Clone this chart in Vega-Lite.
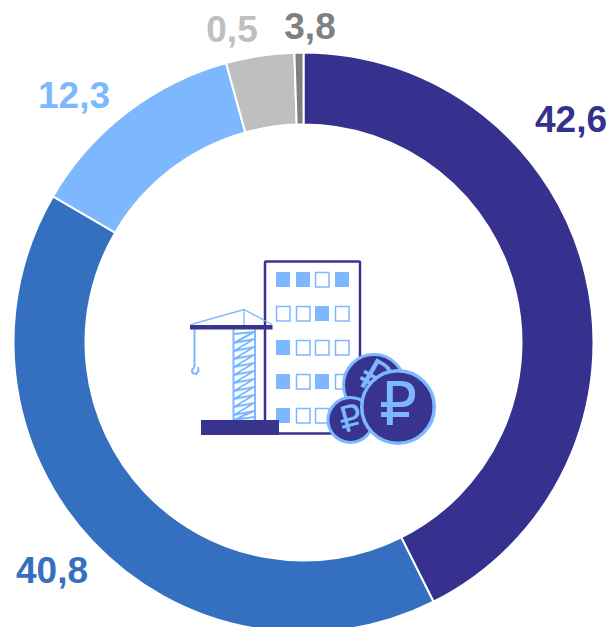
{
"$schema":"https://vega.github.io/schema/vega-lite/v6.json",
"width":607,"height":685,"padding":0,"autosize":{"type":"none"},
"background":"white",
"config":{"view":{"stroke":null}},
"datasets":{
"shares":[{"segment":"A","value":42.6,"rank":1},{"segment":"B","value":40.8,"rank":2},{"segment":"C","value":12.3,"rank":3},{"segment":"D","value":3.8,"rank":4},{"segment":"E","value":0.5,"rank":5}],
"labels":[{"segment":"A","label":"42,6","x":571,"y":120.5},{"segment":"B","label":"40,8","x":52,"y":572},{"segment":"C","label":"12,3","x":74,"y":96.5},{"segment":"D","label":"0,5","x":232,"y":30.5},{"segment":"E","label":"3,8","x":310,"y":27.5}],
"windows":[
{"x":276,"x2":290,"y":272,"y2":287,"kind":"filled"},{"x":296,"x2":310,"y":272,"y2":287,"kind":"filled"},{"x":315.5,"x2":329,"y":272.5,"y2":287,"kind":"empty"},{"x":335,"x2":349,"y":272,"y2":287,"kind":"filled"},
{"x":276.5,"x2":290,"y":306.5,"y2":321,"kind":"empty"},{"x":296.5,"x2":310,"y":306.5,"y2":321,"kind":"empty"},{"x":315,"x2":329,"y":306,"y2":321,"kind":"filled"},{"x":335.5,"x2":349,"y":306.5,"y2":321,"kind":"empty"},
{"x":276,"x2":290,"y":340,"y2":355,"kind":"filled"},{"x":296.5,"x2":310,"y":340.5,"y2":355,"kind":"empty"},{"x":315.5,"x2":329,"y":340.5,"y2":355,"kind":"empty"},{"x":335.5,"x2":349,"y":340.5,"y2":355,"kind":"empty"},
{"x":276,"x2":290,"y":374,"y2":389,"kind":"filled"},{"x":296.5,"x2":310,"y":374.5,"y2":389,"kind":"empty"},{"x":315,"x2":329,"y":374,"y2":389,"kind":"filled"},{"x":335.5,"x2":349,"y":374.5,"y2":389,"kind":"empty"},
{"x":276,"x2":290,"y":408,"y2":423,"kind":"filled"},{"x":296.5,"x2":310,"y":408.5,"y2":423,"kind":"empty"},{"x":315.5,"x2":329,"y":408.5,"y2":423,"kind":"empty"},{"x":335.5,"x2":349,"y":408.5,"y2":423,"kind":"empty"}
],
"craneLines":[
{"part":"roof","i":1,"x":191,"y":324.5},{"part":"roof","i":2,"x":244,"y":309.5},{"part":"roof","i":3,"x":272,"y":324.5},
{"part":"mast","i":1,"x":244,"y":309.5},{"part":"mast","i":2,"x":244,"y":325},
{"part":"cable","i":1,"x":194.5,"y":329},{"part":"cable","i":2,"x":194.5,"y":367},
{"part":"hook","i":1,"x":194.5,"y":367},{"part":"hook","i":2,"x":192,"y":370},{"part":"hook","i":3,"x":192.5,"y":373},{"part":"hook","i":4,"x":196,"y":374},{"part":"hook","i":5,"x":198.5,"y":371},{"part":"hook","i":6,"x":198,"y":367},
{"part":"towerL","i":1,"x":233.5,"y":329},{"part":"towerL","i":2,"x":233.5,"y":420},
{"part":"towerR","i":1,"x":255,"y":329},{"part":"towerR","i":2,"x":255,"y":420},
{"part":"zig","i":1,"x":234,"y":334},{"part":"zig","i":2,"x":254,"y":332},{"part":"zig","i":3,"x":234,"y":343},{"part":"zig","i":4,"x":254,"y":339},{"part":"zig","i":5,"x":234,"y":351},{"part":"zig","i":6,"x":254,"y":347},{"part":"zig","i":7,"x":234,"y":359},{"part":"zig","i":8,"x":254,"y":355},{"part":"zig","i":9,"x":234,"y":367},{"part":"zig","i":10,"x":254,"y":363},{"part":"zig","i":11,"x":234,"y":375},{"part":"zig","i":12,"x":254,"y":371},{"part":"zig","i":13,"x":234,"y":383},{"part":"zig","i":14,"x":254,"y":379},{"part":"zig","i":15,"x":234,"y":391},{"part":"zig","i":16,"x":254,"y":387},{"part":"zig","i":17,"x":234,"y":399},{"part":"zig","i":18,"x":254,"y":395},{"part":"zig","i":19,"x":234,"y":407},{"part":"zig","i":20,"x":254,"y":403},{"part":"zig","i":21,"x":234,"y":415},{"part":"zig","i":22,"x":254,"y":411},{"part":"zig","i":23,"x":234,"y":420},{"part":"zig","i":24,"x":254,"y":417}
]
},
"layer":[
{"data":{"name":"shares"},
"mark":{"type":"arc","innerRadius":218,"outerRadius":290,"stroke":"white","strokeWidth":2},
"encoding":{
"theta":{"field":"value","type":"quantitative","stack":true},
"order":{"field":"rank","type":"quantitative"},
"color":{"field":"segment","type":"nominal","legend":null,"scale":{"domain":["A","B","C","D","E"],"range":["#36318F","#3570C0","#7DB8FF","#BFBFBF","#808080"]}}
}},
{"data":{"name":"labels"},
"encoding":{
"x":{"field":"x","type":"quantitative","axis":null,"scale":{"domain":[0,607],"nice":false,"zero":false}},
"y":{"field":"y","type":"quantitative","axis":null,"scale":{"domain":[685,0],"nice":false,"zero":false}}
},
"layer":[
{"mark":{"type":"text","font":"Liberation Sans","fontWeight":"bold","fontSize":37,"align":"center","baseline":"middle"},
"encoding":{
"text":{"field":"label","type":"nominal"},
"color":{"field":"segment","type":"nominal","legend":null}
}},
{"data":{"values":[{"x":265,"x2":360,"y":261.5,"y2":433.5}]},
"mark":{"type":"rect","fill":"white","stroke":"#38338C","strokeWidth":2.5,"cornerRadius":1},
"encoding":{"x2":{"field":"x2"},"y2":{"field":"y2"}}},
{"data":{"name":"windows"},"transform":[{"filter":"datum.kind==='filled'"}],
"mark":{"type":"rect","fill":"#7DB8FF"},
"encoding":{"x2":{"field":"x2"},"y2":{"field":"y2"}}},
{"data":{"name":"windows"},"transform":[{"filter":"datum.kind==='empty'"}],
"mark":{"type":"rect","fill":"white","stroke":"#7DB8FF","strokeWidth":1.5},
"encoding":{"x2":{"field":"x2"},"y2":{"field":"y2"}}},
{"data":{"name":"craneLines"},"transform":[{"filter":"datum.part==='roof'||datum.part==='mast'"}],
"mark":{"type":"line","stroke":"#7DB8FF","strokeWidth":1.3},
"encoding":{"detail":{"field":"part"},"order":{"field":"i","type":"quantitative"}}},
{"data":{"name":"craneLines"},"transform":[{"filter":"datum.part!=='roof'&&datum.part!=='mast'"}],
"mark":{"type":"line","stroke":"#7DB8FF","strokeWidth":2},
"encoding":{"detail":{"field":"part"},"order":{"field":"i","type":"quantitative"}}},
{"data":{"values":[{"x":190,"x2":272.5,"y":325,"y2":329.5},{"x":201,"x2":279,"y":420,"y2":435}]},
"mark":{"type":"rect","fill":"#38338C"},
"encoding":{"x2":{"field":"x2"},"y2":{"field":"y2"}}},
{"data":{"values":[{"x":374,"y":385}]},
"mark":{"type":"point","shape":"circle","filled":true,"size":3721,"fill":"#38338C","stroke":"#7DB8FF","strokeWidth":3,"opacity":1}},
{"data":{"values":[{"x":374,"y":379,"t":"₽"}]},
"mark":{"type":"text","font":"DejaVu Sans","fontSize":44,"angle":30,"color":"#7DB8FF","align":"center","baseline":"middle"},
"encoding":{"text":{"field":"t"}}},
{"data":{"values":[{"x":350.5,"y":420}]},
"mark":{"type":"point","shape":"circle","filled":true,"size":2025,"fill":"#38338C","stroke":"#7DB8FF","strokeWidth":3,"opacity":1}},
{"data":{"values":[{"x":351,"y":420,"t":"₽"}]},
"mark":{"type":"text","font":"DejaVu Sans","fontSize":36,"angle":345,"color":"#7DB8FF","align":"center","baseline":"middle"},
"encoding":{"text":{"field":"t"}}},
{"data":{"values":[{"x":398,"y":407}]},
"mark":{"type":"point","shape":"circle","filled":true,"size":5256,"fill":"#38338C","stroke":"#7DB8FF","strokeWidth":3.5,"opacity":1}},
{"data":{"values":[{"x":398,"y":407,"t":"₽"}]},
"mark":{"type":"text","font":"DejaVu Sans","fontSize":60,"color":"#7DB8FF","align":"center","baseline":"middle"},
"encoding":{"text":{"field":"t"}}}
]}
]
}
